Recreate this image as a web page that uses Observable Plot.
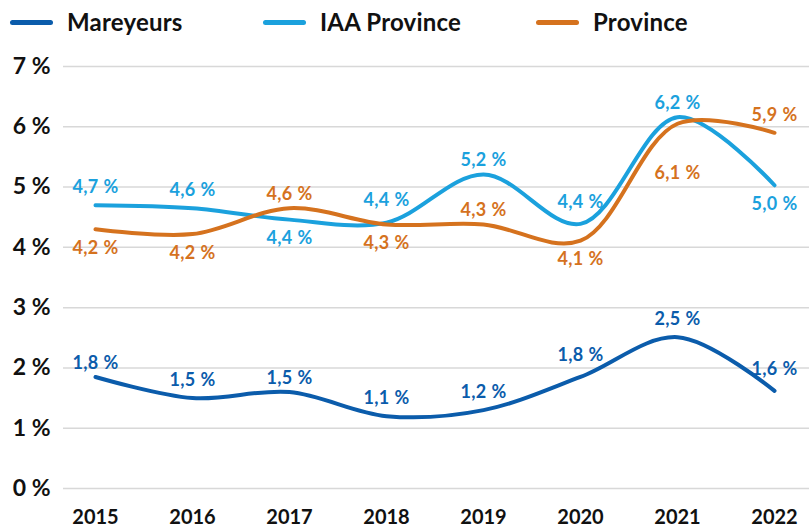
<!DOCTYPE html>
<html>
<head>
<meta charset="utf-8">
<script src="https://cdn.jsdelivr.net/npm/d3@7"></script>
<script src="https://cdn.jsdelivr.net/npm/@observablehq/plot@0.6"></script>
<style>
  html, body { margin: 0; padding: 0; background: #fff; }
  body { width: 809px; height: 526px; overflow: hidden; font-family: Lato, "Open Sans", sans-serif; }
  #legend { position: relative; height: 45px; }
  .sw { position: absolute; top: 20px; width: 43px; height: 5px; border-radius: 3px; }
  .lb { position: absolute; top: 7px; font-size: 24px; font-weight: 700; color: #111; white-space: nowrap; line-height: 30px; letter-spacing: 0.2px; }
  svg { display: block; }
  g[aria-label="text"] text { letter-spacing: 0.4px; }
</style>
</head>
<body>
<div id="legend"></div>
<div id="chart"></div>
<script>
const years = [2015, 2016, 2017, 2018, 2019, 2020, 2021, 2022];
const seriesNames = ["Mareyeurs", "IAA Province", "Province"];
const seriesColors = ["#0b5cab", "#1ba1dd", "#d5721e"];

// values as drawn by the lines (%)
const mareyeurs   = [1.85, 1.50, 1.60, 1.20, 1.30, 1.85, 2.51, 1.62];
const iaaProvince = [4.70, 4.65, 4.46, 4.41, 5.21, 4.39, 6.16, 5.03];
const province    = [4.30, 4.22, 4.65, 4.38, 4.38, 4.11, 6.05, 5.90];

// values printed on the labels (%)
const mareyeursLabels   = [1.8, 1.5, 1.5, 1.1, 1.2, 1.8, 2.5, 1.6];
const iaaProvinceLabels = [4.7, 4.6, 4.4, 4.4, 5.2, 4.4, 6.2, 5.0];
const provinceLabels    = [4.2, 4.2, 4.6, 4.3, 4.3, 4.1, 6.1, 5.9];

// label side relative to the line
const mareyeursSides   = ["near","above","near","above","above","high","above","high"];
const iaaProvinceSides = ["above","above","below","high","near","high","near","below"];
const provinceSides    = ["below","below","near","below","near","below","far","above"];

const yTicks = [0, 1, 2, 3, 4, 5, 6, 7];

const valueSets = [mareyeurs, iaaProvince, province];
const labelSets = [mareyeursLabels, iaaProvinceLabels, provinceLabels];
const sideSets = [mareyeursSides, iaaProvinceSides, provinceSides];

const rows = [];
seriesNames.forEach((s, i) => {
  years.forEach((y, j) => {
    rows.push({year: y, value: valueSets[i][j], series: s, label: labelSets[i][j], side: sideSets[i][j]});
  });
});

const fmt = v => v.toFixed(1).replace(".", ",") + "\u00a0%";

// legend
const legendPos = [[10, 67], [263, 320], [536, 593]];
const legend = document.getElementById("legend");
seriesNames.forEach((s, i) => {
  const sw = document.createElement("div");
  sw.className = "sw";
  sw.style.left = legendPos[i][0] + "px";
  sw.style.background = seriesColors[i];
  legend.appendChild(sw);
  const lb = document.createElement("div");
  lb.className = "lb";
  lb.style.left = legendPos[i][1] + "px";
  lb.textContent = s;
  legend.appendChild(lb);
});

const color = {domain: seriesNames, range: seriesColors};
const textStyle = {fontSize: 18, fontWeight: 700, fontFamily: "Lato, sans-serif"};
const sideOffsets = {near: -14, above: -18, high: -22, below: 19, far: 49};

const chart = Plot.plot({
  width: 809,
  height: 481,
  marginLeft: 63,
  marginRight: 0,
  marginTop: 21,
  marginBottom: 38,
  style: {fontFamily: "Lato, sans-serif", background: "#fff", overflow: "visible"},
  x: {domain: [2015, 2022], range: [95, 774]},
  y: {domain: [0, 7]},
  color,
  marks: [
    Plot.gridY(yTicks, {stroke: "#d8d8d8", strokeOpacity: 1, strokeWidth: 1.5}),
    Plot.axisY({ticks: yTicks, tickSize: 0, tickPadding: 13, tickFormat: d => d + "\u00a0%", fontSize: 23, fontWeight: 700, fill: "#111", label: null}),
    Plot.axisX({ticks: years, tickSize: 0, tickPadding: 21, tickFormat: d => String(d), fontSize: 20, fontWeight: 700, fill: "#111", label: null}),
    ...seriesNames.map(s => Plot.line(rows.filter(r => r.series === s), {
      x: "year", y: "value", stroke: "series", strokeWidth: 4, curve: "catmull-rom", strokeLinecap: "round"
    })),
    ...Object.entries(sideOffsets).map(([side, dy]) =>
      Plot.text(rows.filter(r => r.side === side), {x: "year", y: "value", text: d => fmt(d.label), fill: "series", dy, ...textStyle})
    )
  ]
});
document.getElementById("chart").appendChild(chart);
</script>
</body>
</html>
